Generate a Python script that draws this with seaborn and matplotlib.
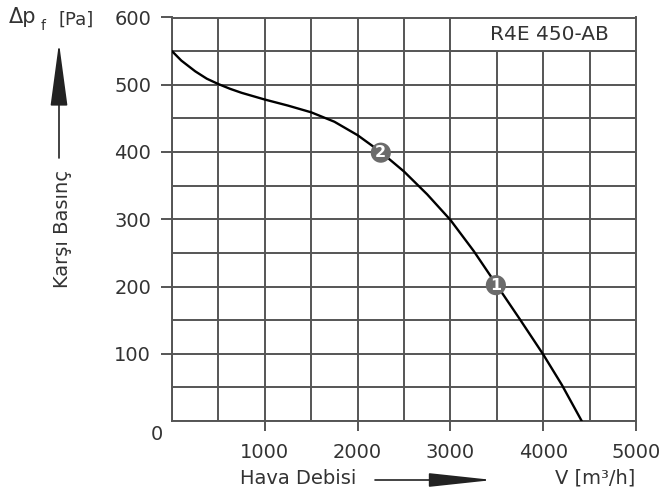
import matplotlib
matplotlib.use('Agg')
import matplotlib.pyplot as plt
from matplotlib.ticker import MultipleLocator, FixedLocator
from matplotlib.patches import Rectangle
import seaborn as sns
import pandas as pd

# fan curve (hava debisi m3/h, karşı basınç Pa)
debi = [0, 100, 250, 375, 500, 625, 750, 1000, 1250, 1500, 1750, 2000, 2250,
        2500, 2750, 3000, 3250, 3500, 3750, 4000, 4200, 4415]
basinc = [550, 536, 520, 509, 501, 494, 488, 478, 469, 459, 445, 425, 400,
          371, 337, 299, 253, 202, 151, 99, 54, 0]

# numbered operating points
nokta_no = ['1', '2']
nokta_debi = [3490, 2250]
nokta_basinc = [202, 399]

x_ticks = [1000, 2000, 3000, 4000, 5000]
y_ticks = [100, 200, 300, 400, 500, 600]
model = 'R4E 450-AB'

df = pd.DataFrame({'debi': debi, 'basinc': basinc})
df_nokta = pd.DataFrame({'no': nokta_no, 'debi': nokta_debi, 'basinc': nokta_basinc})

sns.set_style('white')
plt.rcParams['font.family'] = ['DejaVu Sans']

W, H = 664, 503
fig = plt.figure(figsize=(W / 100, H / 100), dpi=100)
ax = fig.add_axes([172 / W, 1 - 421 / H, (636 - 172) / W, (421 - 17.5) / H])

def fx(x):
    return x / W

def fy(y):
    return 1 - y / H

grid_c = '#555555'
txt_c = '#333333'

# grid: 500 m3/h and 50 Pa
ax.set_xlim(0, 5000)
ax.set_ylim(0, 600)
ax.xaxis.set_major_locator(FixedLocator(x_ticks))
ax.yaxis.set_major_locator(FixedLocator(y_ticks))
ax.xaxis.set_minor_locator(MultipleLocator(500))
ax.yaxis.set_minor_locator(MultipleLocator(50))
ax.grid(which='both', color=grid_c, lw=1.4, zorder=1)
ax.set_axisbelow(True)
ax.tick_params(axis='x', which='major', direction='out', length=7, width=1.4,
               color=grid_c, labelsize=14, labelcolor=txt_c, pad=9, bottom=True)
ax.tick_params(axis='y', which='major', direction='out', length=8, width=1.4,
               color=grid_c, labelsize=14, labelcolor=txt_c, pad=7, left=True)
ax.tick_params(which='minor', length=0)
for s in ax.spines.values():
    s.set_color(grid_c)
    s.set_linewidth(1.4)
    s.set_visible(True)

# model label box in the top-right cells
ax.add_patch(Rectangle((3000, 550), 2000, 50, facecolor='white', edgecolor=grid_c,
                       lw=1.4, zorder=1.5))
ax.text(4070, 574, model, ha='center', va='center', fontsize=14.5, color=txt_c, zorder=3)

sns.lineplot(data=df, x='debi', y='basinc', sort=False, color='black', lw=1.7,
             ax=ax, zorder=4)
sns.scatterplot(data=df_nokta, x='debi', y='basinc', s=210, color='#6b6b6b',
                edgecolor='none', ax=ax, zorder=5)
for _, r in df_nokta.iterrows():
    ax.text(r['debi'], r['basinc'], r['no'], ha='center', va='center',
            color='white', fontsize=11.5, fontweight='bold', zorder=6)

ax.set_xlabel('')
ax.set_ylabel('')

# shared zero at the corner
fig.text(fx(157), fy(434), '0', ha='center', va='center', fontsize=14, color=txt_c)

# axis titles and arrows
fig.text(fx(9), fy(23), 'Δp', fontsize=15, color=txt_c, va='baseline')
fig.text(fx(41), fy(30), 'f', fontsize=10, color=txt_c, va='baseline')
fig.text(fx(59), fy(25), '[Pa]', fontsize=13, color=txt_c, va='baseline')
fig.text(fx(62), fy(229), 'Karşı Basınç', rotation=90, ha='center', va='center',
         fontsize=14, color=txt_c)
fig.text(fx(298), fy(478), 'Hava Debisi', ha='center', va='center',
         fontsize=14, color=txt_c)
fig.text(fx(595), fy(478), 'V [m³/h]', ha='center', va='center',
         fontsize=14, color=txt_c)

ax.annotate('', xy=(fx(59), fy(43)), xytext=(fx(59), fy(158)),
            xycoords='figure fraction', textcoords='figure fraction',
            arrowprops=dict(arrowstyle='-|>,head_length=4,head_width=0.54',
                            color='#222222', lw=1.2, shrinkA=0, shrinkB=0,
                            mutation_scale=10))
ax.annotate('', xy=(fx(493), fy(480)), xytext=(fx(375), fy(480)),
            xycoords='figure fraction', textcoords='figure fraction',
            arrowprops=dict(arrowstyle='-|>,head_length=4,head_width=0.43',
                            color='#222222', lw=1.2, shrinkA=0, shrinkB=0,
                            mutation_scale=10))

plt.savefig('out.png', dpi=100)
